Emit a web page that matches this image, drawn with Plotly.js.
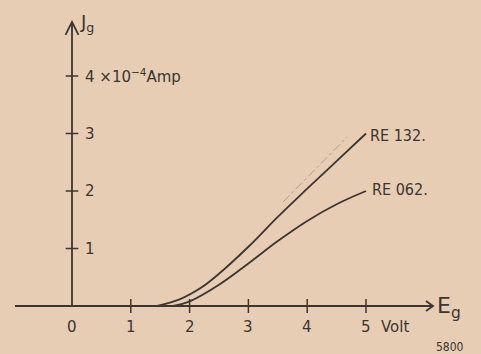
<!DOCTYPE html>
<html>
<head>
<meta charset="utf-8">
<script src="https://cdn.plot.ly/plotly-3.0.1.min.js"></script>
<style>html,body{margin:0;padding:0;background:#e7cdb3;}#chart{width:481px;height:354px;}</style>
</head>
<body>
<div id="chart"></div>
<script>
// Data (grid voltage Eg in Volt, grid current Ig in 10^-4 Amp)
const re132_x = [1.45, 1.84, 2.2, 2.5, 3.0, 3.5, 4.0, 4.5, 5.0];
const re132_y = [0.0, 0.12, 0.32, 0.56, 1.03, 1.55, 2.04, 2.52, 3.0];
const re062_x = [1.72, 2.0, 2.5, 3.0, 3.5, 4.0, 4.5, 5.0];
const re062_y = [0.0, 0.08, 0.37, 0.74, 1.13, 1.48, 1.77, 2.0];
const ghost_x = [3.59, 4.68];
const ghost_y = [1.81, 2.94];
const seriesNames = ["RE 132.", "RE 062."];
const xTicks = [0, 1, 2, 3, 4, 5];
const xTickLabels = ["0", "1", "2", "3", "4", "5"];
const yTicks = [1, 2, 3, 4];
const yTickLabels = ["1", "2", "3", "4 ×10<sup>−4</sup>Amp"];

const ink = "#3b3631";
const bg = "#e7cdb3";
const fnt = "DejaVu Sans, sans-serif";
const fntC = "DejaVu Sans Condensed, DejaVu Sans, sans-serif";

const traces = [
  {x: re132_x, y: re132_y, mode: "lines", line: {color: ink, width: 1.8, shape: "spline", smoothing: 1}, hoverinfo: "skip"},
  {x: re062_x, y: re062_y, mode: "lines", line: {color: ink, width: 1.8, shape: "spline", smoothing: 1}, hoverinfo: "skip"},
  {x: ghost_x, y: ghost_y, mode: "lines", line: {color: "rgba(70,62,55,0.35)", width: 1, dash: "dashdot"}, hoverinfo: "skip"},
  {x: xTicks.slice(1), y: xTicks.slice(1).map(() => 0), mode: "markers", marker: {symbol: "line-ns-open", size: 10, color: ink, line: {color: ink, width: 1.5}}, hoverinfo: "skip"},
  {x: yTicks.map(() => 0), y: yTicks, mode: "markers", marker: {symbol: "line-ew-open", size: 9, color: ink, line: {color: ink, width: 1.5}}, hoverinfo: "skip"}
];

const annotations = [];
xTicks.forEach((v, i) => annotations.push({x: v, y: -0.365, text: xTickLabels[i], showarrow: false, xanchor: "center", yanchor: "middle", font: {family: fnt, size: 15, color: ink}}));
annotations.push({x: 5.49, y: -0.365, text: "Volt", showarrow: false, xanchor: "center", yanchor: "middle", font: {family: fnt, size: 15, color: ink}});
yTicks.forEach((v, i) => annotations.push({x: 0.187, y: v, text: yTickLabels[i], showarrow: false, xanchor: "left", yanchor: "middle", font: {family: fnt, size: 15, color: ink}}));
annotations.push({x: 0.11, y: 4.92, text: "J<sub>g</sub>", showarrow: false, xanchor: "left", yanchor: "middle", font: {family: fnt, size: 18, color: ink}});
annotations.push({x: 6.17, y: -0.02, text: "E<sub>g</sub>", showarrow: false, xanchor: "left", yanchor: "middle", font: {family: fnt, size: 22, color: ink}});
annotations.push({x: 6.43, y: -0.72, text: "5800", showarrow: false, xanchor: "center", yanchor: "middle", font: {family: fntC, size: 12, color: ink}});
annotations.push({x: re132_x[re132_x.length-1] + 0.03, y: re132_y[re132_y.length-1] - 0.04, text: seriesNames[0], showarrow: false, xanchor: "left", yanchor: "middle", font: {family: fntC, size: 16, color: ink}});
annotations.push({x: re062_x[re062_x.length-1] + 0.07, y: re062_y[re062_y.length-1] + 0.02, text: seriesNames[1], showarrow: false, xanchor: "left", yanchor: "middle", font: {family: fntC, size: 16, color: ink}});

const lw = 1.8;
const shapes = [
  {type: "line", x0: -0.97, x1: 6.14, y0: 0, y1: 0, line: {color: ink, width: lw}},
  {type: "line", x0: 0, x1: 0, y0: 0, y1: 4.94, line: {color: ink, width: lw}},
  {type: "path", path: "M 6.02,0.087 L 6.14,0 L 6.02,-0.087", line: {color: ink, width: lw}},
  {type: "path", path: "M -0.11,4.714 L 0,4.94 L 0.11,4.714", line: {color: ink, width: lw}}
];

const layout = {
  width: 481, height: 354,
  margin: {l: 0, r: 0, t: 0, b: 0},
  paper_bgcolor: bg, plot_bgcolor: bg,
  showlegend: false,
  xaxis: {range: [-1.2245, 6.956], visible: false, fixedrange: true},
  yaxis: {range: [-0.835, 5.322], visible: false, fixedrange: true},
  annotations: annotations,
  shapes: shapes
};

Plotly.newPlot("chart", traces, layout, {displayModeBar: false, staticPlot: true});
</script>
</body>
</html>
